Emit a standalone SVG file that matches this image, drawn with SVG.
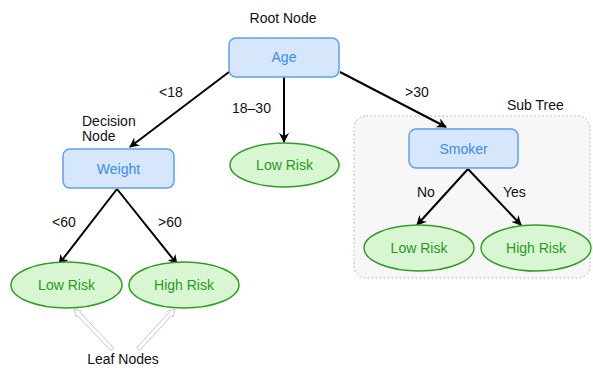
<svg xmlns="http://www.w3.org/2000/svg" width="593" height="368" viewBox="0 0 593 368">
  <defs>
    <marker id="arrow" viewBox="0 0 10 10" refX="9" refY="5" markerWidth="5" markerHeight="5" orient="auto" markerUnits="strokeWidth">
      <path d="M0,0 L10,5 L0,10 L3,5 Z" fill="#000"/>
    </marker>
    <style>
      .txt { font-family: "Liberation Sans", Arial, sans-serif; font-size: 14px; fill: #111; }
      .dec rect { fill: #d6e7fb; stroke: #5e9ff5; stroke-width: 1.5; }
      .dec text { font-family: "Liberation Sans", Arial, sans-serif; font-size: 14px; fill: #3a8cf2; text-anchor: middle; }
      .leaf ellipse { fill: #d8f6d2; stroke: #2f9e22; stroke-width: 1.5; }
      .leaf text { font-family: "Liberation Sans", Arial, sans-serif; font-size: 14px; fill: #2a9a1c; text-anchor: middle; }
      .edge { stroke: #000; stroke-width: 2; fill: none; marker-end: url(#arrow); }
      .hollow { fill: #fff; stroke: #c8c8c8; stroke-width: 1; }
    </style>
  </defs>

  <rect width="593" height="368" fill="#fff"/>

  <!-- sub tree frame -->
  <g id="subtree">
    <rect x="354" y="116" width="236" height="162" rx="12" fill="#f7f7f7" stroke="#bdbdbd" stroke-width="1" stroke-dasharray="2,2"/>
    <text class="txt" x="507" y="110">Sub Tree</text>
  </g>

  <!-- annotations -->
  <text class="txt" x="283" y="23" text-anchor="middle">Root Node</text>
  <text class="txt" x="82" y="126">Decision</text>
  <text class="txt" x="82" y="141">Node</text>
  <text class="txt" x="123" y="364" text-anchor="middle">Leaf Nodes</text>

  <!-- connectors -->
  <g id="connectors">
    <line class="edge" x1="229" y1="72" x2="130" y2="147"/>
    <line class="edge" x1="284" y1="77" x2="284" y2="142"/>
    <line class="edge" x1="340" y1="72" x2="446" y2="127"/>
    <line class="edge" x1="117" y1="189" x2="59" y2="264"/>
    <line class="edge" x1="117" y1="189" x2="177" y2="264"/>
    <line class="edge" x1="468" y1="169" x2="417" y2="225"/>
    <line class="edge" x1="468" y1="169" x2="521" y2="225"/>
    <polygon class="hollow" points="113.45,347.6 80.27,312.7 81.7,311.3 74,309 75.9,316.8 77.35,315.5 110.55,350.4"/>
    <polygon class="hollow" points="139.5,350.4 171.7,315.5 173.2,316.8 175,309 167.3,311.4 168.8,312.8 136.5,347.6"/>
    <text class="txt" x="159" y="97">&lt;18</text>
    <text class="txt" x="232" y="113">18–30</text>
    <text class="txt" x="405" y="97">&gt;30</text>
    <text class="txt" x="52" y="227">&lt;60</text>
    <text class="txt" x="158" y="227">&gt;60</text>
    <text class="txt" x="417" y="197">No</text>
    <text class="txt" x="503" y="197">Yes</text>
  </g>

  <!-- nodes -->
  <g id="age" class="dec">
    <rect x="229" y="38" width="110" height="39" rx="7"/>
    <text x="284" y="62">Age</text>
  </g>
  <g id="weight" class="dec">
    <rect x="63" y="149" width="111" height="39" rx="7"/>
    <text x="118.5" y="174">Weight</text>
  </g>
  <g id="smoker" class="dec">
    <rect x="409" y="129" width="109" height="39" rx="7"/>
    <text x="463.5" y="154">Smoker</text>
  </g>
  <g id="low-risk-mid" class="leaf">
    <ellipse cx="284.5" cy="165" rx="54.5" ry="22"/>
    <text x="284.5" y="170">Low Risk</text>
  </g>
  <g id="low-risk-weight" class="leaf">
    <ellipse cx="66.5" cy="285" rx="55.5" ry="23"/>
    <text x="66.5" y="290">Low Risk</text>
  </g>
  <g id="high-risk-weight" class="leaf">
    <ellipse cx="184" cy="285" rx="55" ry="23"/>
    <text x="184" y="290">High Risk</text>
  </g>
  <g id="low-risk-smoker" class="leaf">
    <ellipse cx="419" cy="248" rx="55" ry="23"/>
    <text x="419" y="253">Low Risk</text>
  </g>
  <g id="high-risk-smoker" class="leaf">
    <ellipse cx="536" cy="248" rx="55" ry="23"/>
    <text x="536" y="253">High Risk</text>
  </g>
</svg>
